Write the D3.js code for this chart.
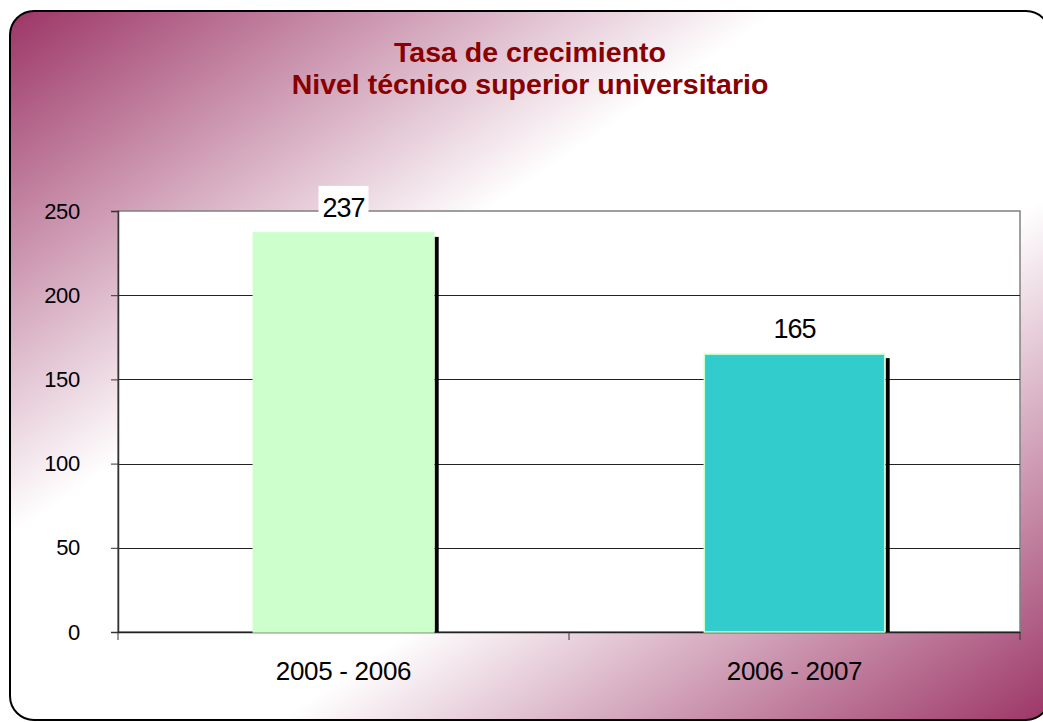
<!DOCTYPE html>
<html>
<head>
<meta charset="utf-8">
<script src="https://cdn.jsdelivr.net/npm/d3@7"></script>
<style>
  body { margin: 0; background: #fff; }
  svg text { font-family: "Liberation Sans", Arial, sans-serif; }
</style>
</head>
<body>
<svg width="1043" height="722"></svg>
<script>
var svg = d3.select('svg');

// chart data
var titleLines = ['Tasa de crecimiento', 'Nivel técnico superior universitario'];
var periods = ['2005 - 2006', '2006 - 2007'];
var growth = [237, 165];
var barColors = ['#ccffcc', '#33cccc'];
var yTicks = [0, 50, 100, 150, 200, 250];

var plot = {l: 118, r: 1020, t: 211, b: 632};

// background frame with diagonal gradient
var defs = svg.append('defs');
var grad = defs.append('linearGradient')
    .attr('id', 'bg')
    .attr('x1', 0).attr('y1', 0)
    .attr('x2', 1).attr('y2', 1);
grad.append('stop').attr('offset', '0').attr('stop-color', '#9c3566');
grad.append('stop').attr('offset', '0.37').attr('stop-color', '#ffffff');
grad.append('stop').attr('offset', '0.63').attr('stop-color', '#ffffff');
grad.append('stop').attr('offset', '1').attr('stop-color', '#9c3566');

svg.append('rect')
    .attr('x', 10).attr('y', 11)
    .attr('width', 1040).attr('height', 709)
    .attr('rx', 24).attr('ry', 24)
    .attr('fill', 'url(#bg)')
    .attr('stroke', '#000')
    .attr('stroke-width', 2);

// titles
svg.selectAll('.title')
    .data(titleLines)
    .enter().append('text')
    .attr('class', 'title')
    .attr('x', 530)
    .attr('y', function(d, i){ return 62 + i*32; })
    .attr('text-anchor', 'middle')
    .style('font-size', '28.5px')
    .style('font-weight', 'bold')
    .style('fill', '#880000')
    .text(function(d){ return d; });

// scales
var x = d3.scaleBand()
    .domain(periods)
    .range([plot.l, plot.r])
    .paddingInner(0.6)
    .paddingOuter(0.3);
var band = d3.scaleBand().domain(periods).range([plot.l, plot.r]);
var y = d3.scaleLinear().domain([0, 250]).range([plot.b, plot.t]);

// plot area
svg.append('rect')
    .attr('x', plot.l).attr('y', plot.t)
    .attr('width', plot.r - plot.l).attr('height', plot.b - plot.t)
    .attr('fill', '#fff')
    .attr('stroke', '#808080')
    .attr('stroke-width', 1.5);

// gridlines
svg.append('g').selectAll('line')
    .data(yTicks.filter(function(d){ return d > 0 && d < 250; }))
    .enter().append('line')
    .attr('x1', plot.l).attr('x2', plot.r)
    .attr('y1', function(d){ return Math.round(y(d)) + 0.5; })
    .attr('y2', function(d){ return Math.round(y(d)) + 0.5; })
    .attr('stroke', '#222')
    .attr('stroke-width', 1);

// y axis
var yAxis = svg.append('g')
    .attr('transform', 'translate(' + plot.l + ',0)')
    .call(d3.axisLeft(y).tickValues(yTicks).tickSize(7).tickPadding(31));
yAxis.select('.domain').attr('stroke', '#333').attr('stroke-width', 1.5);
yAxis.selectAll('.tick line').attr('stroke', '#333');
yAxis.selectAll('.tick text')
    .style('font-size', '22px')
    .style('letter-spacing', '-0.3px')
    .attr('fill', '#000');

// x axis
var xAxis = svg.append('g')
    .attr('transform', 'translate(0,' + plot.b + ')')
    .call(d3.axisBottom(band).tickSize(0).tickPadding(30));
xAxis.select('.domain').attr('stroke', '#222').attr('stroke-width', 1.5);
xAxis.selectAll('.tick text')
    .style('font-size', '26px')
    .style('letter-spacing', '-0.3px')
    .attr('fill', '#000');
svg.append('g').selectAll('line')
    .data(periods.concat(['end']))
    .enter().append('line')
    .attr('x1', function(d, i){ return i < periods.length ? band(d) : plot.r; })
    .attr('x2', function(d, i){ return i < periods.length ? band(d) : plot.r; })
    .attr('y1', plot.b).attr('y2', plot.b + 8)
    .attr('stroke', '#333');

// bar shadows
svg.append('g').selectAll('rect')
    .data(growth)
    .enter().append('rect')
    .attr('x', function(d, i){ return x(periods[i]) + x.bandwidth() + 1; })
    .attr('y', function(d){ return y(d) + 4; })
    .attr('width', 4)
    .attr('height', function(d){ return plot.b - y(d) - 4; })
    .attr('fill', '#000');

// bars
svg.append('g').selectAll('rect')
    .data(growth)
    .enter().append('rect')
    .attr('x', function(d, i){ return x(periods[i]); })
    .attr('y', function(d){ return y(d); })
    .attr('width', x.bandwidth())
    .attr('height', function(d){ return plot.b - y(d); })
    .attr('fill', function(d, i){ return barColors[i]; })
    .attr('stroke', '#ccffcc')
    .attr('stroke-width', 1.5);

// value labels
var labels = svg.append('g').selectAll('g')
    .data(growth)
    .enter().append('g')
    .attr('transform', function(d, i){
        return 'translate(' + (x(periods[i]) + x.bandwidth()/2) + ',' + (y(d) - 16) + ')';
    });
labels.append('rect')
    .attr('x', -25).attr('y', -31)
    .attr('width', 50).attr('height', 28)
    .attr('fill', '#fff');
labels.append('text')
    .attr('text-anchor', 'middle')
    .style('font-size', '27px')
    .style('letter-spacing', '-1px')
    .text(function(d){ return d; });
</script>
</body>
</html>
